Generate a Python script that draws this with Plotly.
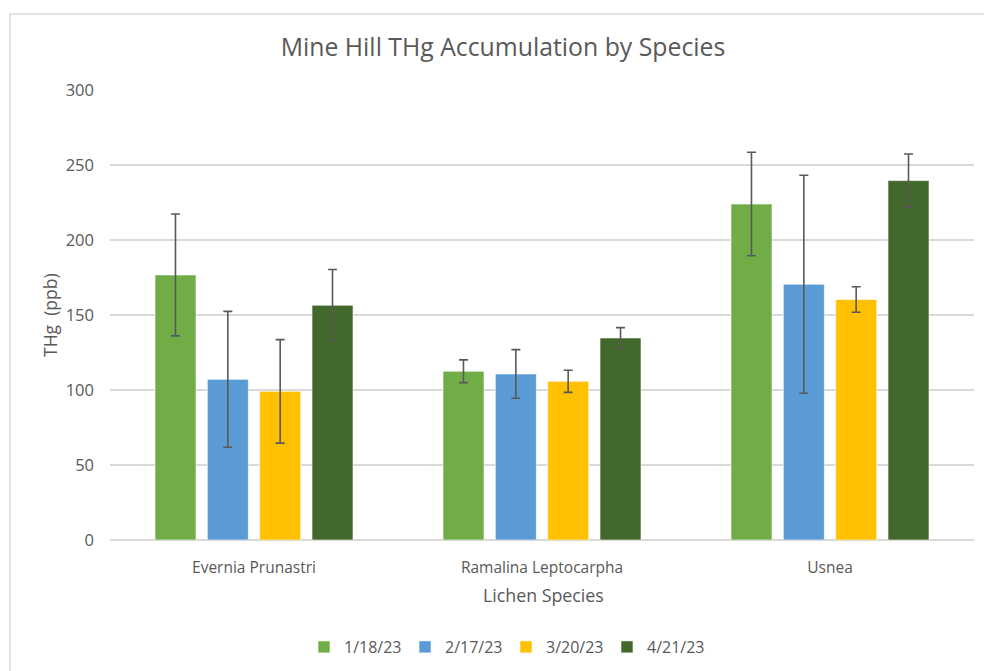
import plotly.graph_objects as go

species = ["Evernia Prunastri", "Ramalina Leptocarpha", "Usnea"]
dates = ["1/18/23", "2/17/23", "3/20/23", "4/21/23"]
values = {
    "1/18/23": [176.7, 112.5, 224.0],
    "2/17/23": [107.1, 110.7, 170.5],
    "3/20/23": [99.1, 105.8, 160.3],
    "4/21/23": [156.5, 134.7, 239.6],
}
errors = {
    "1/18/23": [40.6, 7.6, 34.5],
    "2/17/23": [45.3, 16.2, 72.7],
    "3/20/23": [34.5, 7.4, 8.5],
    "4/21/23": [23.8, 6.9, 17.7],
}
colors = {
    "1/18/23": "#70AD47",
    "2/17/23": "#5B9BD5",
    "3/20/23": "#FFC000",
    "4/21/23": "#43682B",
}
y_ticks = [0, 50, 100, 150, 200, 250, 300]

FONT = "'Open Sans', Lato, sans-serif"
TXT = "#595959"

fig = go.Figure()
for d in dates:
    fig.add_trace(go.Bar(
        x=species, y=values[d], name=d,
        marker=dict(color=colors[d], line=dict(color="rgba(255,255,255,0.6)", width=1)),
        error_y=dict(type="data", array=errors[d], visible=True,
                     color="#595959", thickness=1.6, width=4.5),
    ))

W, H = 984, 671
L, R, T, B = 110, 10, 90, 131
pw, ph = W - L - R, H - T - B

fig.update_layout(
    width=W, height=H,
    margin=dict(l=L, r=R, t=T, b=B, autoexpand=False),
    paper_bgcolor="white", plot_bgcolor="white",
    barmode="group", bargap=0.273, bargroupgap=0.216,
    font=dict(family=FONT, color=TXT, size=15),
    title=dict(text="Mine Hill THg Accumulation by Species",
               x=503 / W, xanchor="center", y=1 - 47 / H, yanchor="middle",
               font=dict(size=24.8, color=TXT, family=FONT)),
    showlegend=True,
    legend=dict(orientation="h", x=(506 - L) / pw, xanchor="center",
                y=(H - B - 647) / ph, yanchor="middle",
                font=dict(size=16, color=TXT), traceorder="normal",
                itemwidth=30, tracegroupgap=0, entrywidth=56,
                entrywidthmode="pixels"),
    xaxis=dict(showgrid=False, showline=False, ticks="", ticklabelstandoff=16,
               tickfont=dict(size=15.5, color=TXT), zeroline=False),
    yaxis=dict(range=[0, 300], tickvals=y_ticks, showgrid=True,
               gridcolor="#D9D9D9", gridwidth=1.5, zeroline=True,
               zerolinecolor="#D9D9D9", zerolinewidth=1.5,
               showline=False, ticks="", ticklabelstandoff=15,
               tickfont=dict(size=16.5, color=TXT)),
    annotations=[
        dict(text="THg  (ppb)", xref="paper", yref="paper",
             x=(50 - L) / pw, y=0.5, textangle=-90, showarrow=False,
             xanchor="center", yanchor="middle",
             font=dict(size=17.5, color=TXT, family=FONT)),
        dict(text="Lichen Species", xref="paper", yref="paper",
             x=(543 - L) / pw, y=(H - B - 595) / ph, showarrow=False,
             xanchor="center", yanchor="middle",
             font=dict(size=17.8, color=TXT, family=FONT)),
    ],
    shapes=[
        dict(type="rect", xref="paper", yref="paper",
             x0=(10 - L) / pw, x1=(1000 - L) / pw,
             y0=(H - B - 690) / ph, y1=(H - B - 14) / ph,
             line=dict(color="#D9D9D9", width=1.5), fillcolor="rgba(0,0,0,0)",
             layer="below"),
    ],
)

fig.write_html("out.html", config={"displayModeBar": False},
               post_script="document.body.style.margin='0';document.body.style.overflow='hidden';")
